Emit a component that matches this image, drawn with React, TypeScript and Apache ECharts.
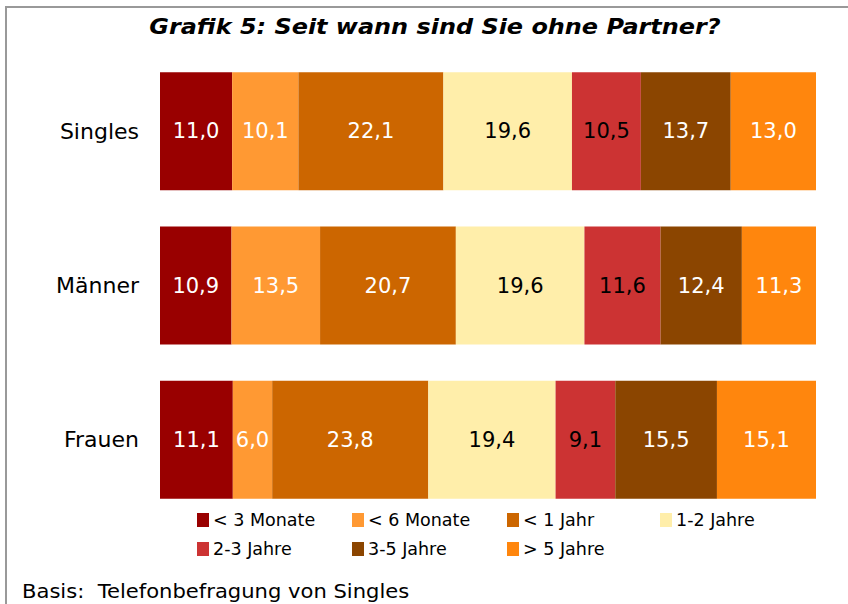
import React, { useEffect, useRef } from "react";
import * as echarts from "echarts";

const categories = ["Singles", "Männer", "Frauen"];
const seriesNames = ["< 3 Monate", "< 6 Monate", "< 1 Jahr", "1-2 Jahre", "2-3 Jahre", "3-5 Jahre", "> 5 Jahre"];
const lt3Monate = [11.0, 10.9, 11.1];
const lt6Monate = [10.1, 13.5, 6.0];
const lt1Jahr = [22.1, 20.7, 23.8];
const j1bis2 = [19.6, 19.6, 19.4];
const j2bis3 = [10.5, 11.6, 9.1];
const j3bis5 = [13.7, 12.4, 15.5];
const gt5Jahre = [13.0, 11.3, 15.1];
const seriesValues = [lt3Monate, lt6Monate, lt1Jahr, j1bis2, j2bis3, j3bis5, gt5Jahre];
const colors = ["#990000", "#FF9933", "#CC6600", "#FFEEAA", "#CC3333", "#8B4500", "#FF860D"];
const labelColors = ["#ffffff", "#ffffff", "#ffffff", "#000000", "#000000", "#ffffff", "#ffffff"];
const legendPos = [
  [197, 510], [352, 510], [507, 510], [660, 510],
  [197, 539], [352, 539], [507, 539],
];

export default function App() {
  const ref = useRef<HTMLDivElement>(null);
  useEffect(() => {
    document.body.style.margin = "0";
    const chart = echarts.init(ref.current!, null, { renderer: "svg" });
    const font = "'DejaVu Sans', Verdana, sans-serif";
    chart.setOption({
      animation: false,
      backgroundColor: "#ffffff",
      graphic: [
        { type: "line", shape: { x1: 6, y1: 7, x2: 848, y2: 7 }, style: { stroke: "#999999", lineWidth: 2 } },
        { type: "line", shape: { x1: 6, y1: 6, x2: 6, y2: 604 }, style: { stroke: "#999999", lineWidth: 2 } },
        {
          type: "text",
          x: 435,
          y: 27,
          scaleX: 1.14,
          style: {
            text: "Grafik 5: Seit wann sind Sie ohne Partner?",
            fontFamily: font,
            fontStyle: "italic",
            fontWeight: "bold",
            fontSize: 21,
            fill: "#000",
            align: "center",
            verticalAlign: "middle",
          },
        },
        {
          type: "text",
          x: 22,
          y: 591,
          scaleX: 1.11,
          style: {
            text: "Basis:  Telefonbefragung von Singles",
            fontFamily: font,
            fontSize: 19,
            fill: "#000",
            align: "left",
            verticalAlign: "middle",
          },
        },
      ],
      legend: seriesNames.map((n, i) => ({
        data: [n],
        left: legendPos[i][0],
        top: legendPos[i][1],
        padding: 0,
        itemWidth: 12,
        itemHeight: 14,
        icon: "rect",
        textStyle: { fontFamily: font, fontSize: 17.5, color: "#000", lineHeight: 20, padding: [0, 0, 0, -1] },
      })),
      grid: { left: 160, right: 32, top: 54, bottom: 87 },
      xAxis: {
        type: "value",
        min: 0,
        max: 100,
        show: false,
      },
      yAxis: {
        type: "category",
        data: categories,
        inverse: true,
        axisLine: { show: false },
        axisTick: { show: false },
        axisLabel: { fontFamily: font, fontSize: 22, color: "#000", margin: 21 },
      },
      series: seriesNames.map((n, i) => ({
        name: n,
        type: "bar",
        stack: "total",
        barWidth: 118,
        data: seriesValues[i],
        itemStyle: { color: colors[i] },
        label: {
          show: true,
          position: "inside",
          fontFamily: font,
          fontSize: 21,
          color: labelColors[i],
          formatter: (p: any) => Number(p.value).toFixed(1).replace(".", ","),
        },
      })),
    });
    return () => chart.dispose();
  }, []);
  return <div ref={ref} style={{ width: 848, height: 604 }} />;
}
